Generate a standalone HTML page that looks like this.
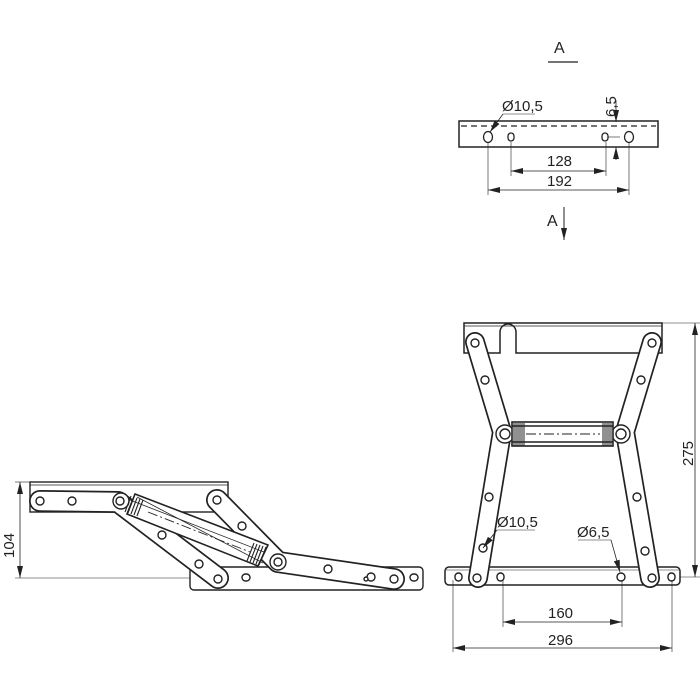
<!DOCTYPE html>
<html><head><meta charset="utf-8"><style>
html,body{margin:0;padding:0;background:#fff;}
svg{display:block;}
text{font-family:"Liberation Sans",sans-serif;fill:#222;}
</style></head><body>
<svg width="700" height="697" viewBox="0 0 700 697" xmlns="http://www.w3.org/2000/svg">
<defs>
<marker id="ar" markerWidth="12" markerHeight="6" refX="12" refY="3" orient="auto-start-reverse" markerUnits="userSpaceOnUse"><path d="M0,0 L12,3 L0,6 Z" fill="#222"/></marker>
</defs>
<g stroke="#222" fill="none" stroke-width="1">
<!-- ===== View A ===== -->
<line x1="548" y1="62" x2="578" y2="62" stroke-width="1.3"/>
<rect x="459" y="121" width="199" height="26" stroke-width="1.5"/>
<line x1="461" y1="126" x2="656" y2="126" stroke-dasharray="6,4" stroke-width="1.2"/>
<ellipse cx="488" cy="137" rx="4.5" ry="5.5" stroke-width="1.3"/>
<rect x="508" y="133" width="6" height="8" rx="3" stroke-width="1.3"/>
<rect x="602" y="133" width="6" height="8" rx="3" stroke-width="1.3"/>
<ellipse cx="629" cy="137" rx="4.5" ry="5.5" stroke-width="1.3"/>
<line x1="488" y1="142" x2="488" y2="195" stroke-width="0.6"/>
<line x1="629" y1="142" x2="629" y2="195" stroke-width="0.6"/>
<line x1="511" y1="142" x2="511" y2="176" stroke-width="0.6"/>
<line x1="606" y1="142" x2="606" y2="176" stroke-width="0.6"/>
<line x1="511" y1="171" x2="606" y2="171" marker-start="url(#ar)" marker-end="url(#ar)" stroke-width="0.8"/>
<line x1="488" y1="190" x2="629" y2="190" marker-start="url(#ar)" marker-end="url(#ar)" stroke-width="0.8"/>
<line x1="503" y1="114" x2="535" y2="114" stroke-width="0.6"/>
<line x1="503" y1="114" x2="490" y2="132" marker-end="url(#ar)" stroke-width="0.8"/>
<line x1="616" y1="100" x2="616" y2="122" marker-end="url(#ar)" stroke-width="0.8"/>
<line x1="616" y1="160" x2="616" y2="147" marker-end="url(#ar)" stroke-width="0.8"/>
<line x1="608" y1="137" x2="620" y2="137" stroke-width="0.6"/>
<line x1="564" y1="207" x2="564" y2="240" marker-end="url(#ar)" stroke-width="1"/>

<!-- ===== Front view ===== -->
<path d="M464,323 H662 V353 H516 V332 A8,8 0 0 0 500,332 V353 H464 Z" stroke-width="1.5"/>
<line x1="464" y1="326" x2="662" y2="326" stroke-width="0.8"/>
<rect x="445" y="567" width="235" height="18" rx="4" stroke-width="1.5"/>
<line x1="445" y1="570" x2="680" y2="570" stroke-width="0.6"/>
</g>
<!-- links front -->
<g stroke-linecap="round" stroke-linejoin="round" fill="none">
<polyline points="475,342 502,432 478,578" stroke="#222" stroke-width="20"/>
<polyline points="475,342 502,432 478,578" stroke="#fff" stroke-width="16.6"/>
<polyline points="652,342 625,432 650,578" stroke="#222" stroke-width="20"/>
<polyline points="652,342 625,432 650,578" stroke="#fff" stroke-width="16.6"/>
</g>
<g stroke="#222" fill="#fff" stroke-width="1.4">
<circle cx="475" cy="343" r="4"/><circle cx="485" cy="380" r="4"/>
<circle cx="489" cy="497" r="4"/><circle cx="483" cy="548" r="4"/><circle cx="477" cy="578" r="4"/>
<circle cx="652" cy="343" r="4"/><circle cx="641" cy="380" r="4"/>
<circle cx="637" cy="497" r="4"/><circle cx="645" cy="551" r="4"/><circle cx="652" cy="578" r="4"/>
<rect x="455" y="573" width="7" height="8" rx="3.5"/><rect x="497" y="573" width="7" height="8" rx="3.5"/>
<rect x="668" y="573" width="7" height="8" rx="3.5"/><circle cx="621" cy="577" r="4"/>
<!-- spring -->
<circle cx="505" cy="434" r="9"/><circle cx="505" cy="434" r="5"/>
<circle cx="621" cy="434" r="9"/><circle cx="621" cy="434" r="5"/>
<rect x="512" y="422" width="101" height="24" stroke-width="1.6"/>
<line x1="512" y1="426" x2="613" y2="426"/><line x1="512" y1="442" x2="613" y2="442"/>
</g>
<g stroke="#222" stroke-width="1">
<path d="M514,423v23M516,423v23M518,423v23M520,423v23M522,423v23M524,423v23M603,423v23M605,423v23M607,423v23M609,423v23M611,423v23"/>
<line x1="526" y1="434" x2="600" y2="434" stroke-dasharray="10,3,2,3"/>
<!-- dims front -->
<line x1="662" y1="323" x2="700" y2="323" stroke-width="0.6"/>
<line x1="680" y1="577" x2="700" y2="577" stroke-width="0.6"/>
<line x1="695" y1="323" x2="695" y2="577" marker-start="url(#ar)" marker-end="url(#ar)" stroke-width="0.8"/>
<line x1="453" y1="580" x2="453" y2="652" stroke-width="0.6"/>
<line x1="672" y1="580" x2="672" y2="652" stroke-width="0.6"/>
<line x1="503" y1="580" x2="503" y2="627" stroke-width="0.6"/>
<line x1="622" y1="580" x2="622" y2="627" stroke-width="0.6"/>
<line x1="503" y1="622" x2="622" y2="622" marker-start="url(#ar)" marker-end="url(#ar)" stroke-width="0.8"/>
<line x1="453" y1="648" x2="672" y2="648" marker-start="url(#ar)" marker-end="url(#ar)" stroke-width="0.8"/>
<line x1="497" y1="530" x2="535" y2="530" stroke-width="0.6"/>
<line x1="497" y1="530" x2="483" y2="548" marker-end="url(#ar)" stroke-width="0.8"/>
<line x1="578" y1="540" x2="611" y2="540" stroke-width="0.6"/>
<line x1="611" y1="540" x2="620" y2="572" marker-end="url(#ar)" stroke-width="0.8"/>

<!-- ===== Side view ===== -->
<g fill="none">
<rect x="30" y="482" width="198" height="30" stroke-width="1.4"/>
<line x1="30" y1="485" x2="228" y2="485" stroke-width="0.7"/>
<rect x="190" y="567" width="233" height="23" rx="4" fill="#fff" stroke-width="1.4"/>
<line x1="15" y1="482" x2="30" y2="482" stroke-width="0.6"/>
<line x1="15" y1="578" x2="190" y2="578" stroke-width="0.6"/>
<line x1="20" y1="482" x2="20" y2="578" marker-start="url(#ar)" marker-end="url(#ar)" stroke-width="0.8"/>
</g>
</g>
<g stroke-linecap="round" stroke-linejoin="round" fill="none">
<polyline points="40,501 118,502 218,578" stroke="#222" stroke-width="22"/>
<polyline points="40,501 118,502 218,578" stroke="#fff" stroke-width="18.6"/>
<polyline points="217,500 278,562 394,579" stroke="#222" stroke-width="22"/>
<polyline points="217,500 278,562 394,579" stroke="#fff" stroke-width="18.6"/>
</g>
<g stroke="#222" fill="#fff" stroke-width="1.4">
<circle cx="40" cy="501" r="4"/><circle cx="72" cy="501" r="4"/>
<circle cx="162" cy="535" r="4"/><circle cx="199" cy="564" r="4"/><circle cx="218" cy="579" r="4"/>
<circle cx="217" cy="500" r="4"/><circle cx="242" cy="526" r="4"/>
<circle cx="328" cy="569" r="4"/><circle cx="371" cy="577" r="4"/><circle cx="366" cy="579" r="2"/><circle cx="394" cy="579" r="4"/>
<rect x="242" y="574" width="8" height="7" rx="3.5"/><rect x="410" y="574" width="8" height="7" rx="3.5"/>
<circle cx="121" cy="501" r="8"/><circle cx="120" cy="501" r="4"/>
<circle cx="278" cy="562" r="8"/><circle cx="278" cy="562" r="4"/>
<path d="M135,494 L268,545 L258,566 L127,514 Z" stroke-width="1.6"/>
<path d="M130,500 L264,552" stroke-width="0.8" fill="none"/>
<path d="M137,497 L263,563" stroke-width="0.8" fill="none"/>
</g>
<g stroke="#222" stroke-width="1.1">
<path d="M131,496 l-6,16 M134,497 l-6,16 M137,498 l-6,16 M140,499 l-6,16 M143,500 l-6,16 M254,543 l-7,18 M257,544 l-7,18 M260,545 l-7,18 M263,546 l-7,18 M266,547 l-7,18"/>
<line x1="148" y1="512" x2="250" y2="552" stroke-dasharray="10,3,2,3" stroke-width="0.9"/>
</g>

<g font-size="15">
<text x="554" y="53" font-size="16">A</text>
<text x="547" y="226" font-size="16">A</text>
<text x="502" y="111">Ø10,5</text>
<text x="547" y="166">128</text>
<text x="547" y="186">192</text>
<text transform="translate(616,117) rotate(-90)">6,5</text>
<text transform="translate(693,466) rotate(-90)">275</text>
<text x="548" y="618">160</text>
<text x="548" y="645">296</text>
<text x="497" y="527">Ø10,5</text>
<text x="577" y="537">Ø6,5</text>
<text transform="translate(14,558) rotate(-90)">104</text>
</g>
</svg>
</body></html>
